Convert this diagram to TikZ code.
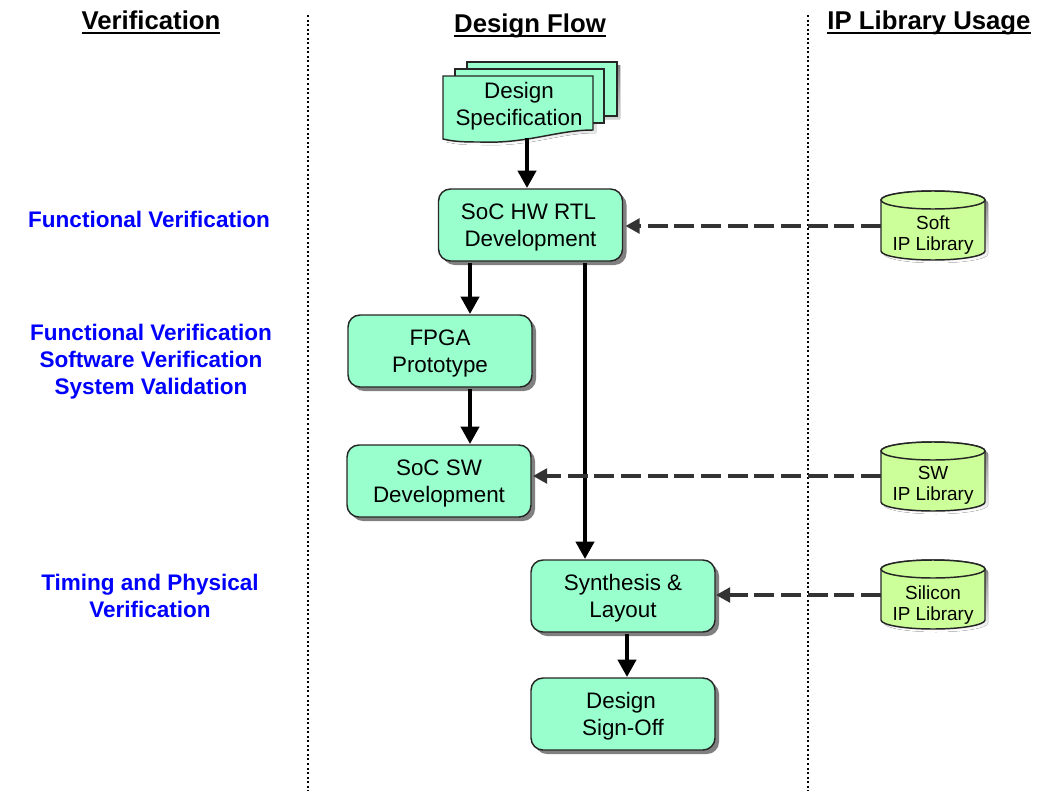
\documentclass[tikz,border=0pt]{standalone}
\usepackage{fontspec}
\setmainfont{Liberation Sans}
\usetikzlibrary{arrows.meta,calc,shadows}
\definecolor{boxfill}{HTML}{99FFCC}
\definecolor{cylfill}{HTML}{CCFF99}
\definecolor{shade}{HTML}{808080}
\definecolor{dashline}{HTML}{333333}
\definecolor{veriblue}{HTML}{0000FF}
\newcommand{\hdrline}[1]{\setbox0\hbox{#1}\rlap{\rule[-3.4pt]{\wd0}{1.5pt}}\box0}
\tikzset{
  pxshadow/.style={drop shadow={shadow xshift=3pt,shadow yshift=-3pt,fill=shade,opacity=1}},
  flowbox/.style={draw=black!85,line width=1.1pt,fill=boxfill,rounded corners=9pt,minimum width=138pt,minimum height=54pt,
    align=center,font=\fontsize{16.8}{20.2}\selectfont,inner sep=0pt,outer sep=0pt,pxshadow,text depth=0pt},
  cyltext/.style={align=center,font=\fontsize{14.2}{15.8}\selectfont,inner sep=0pt},
  cylbody/.style={draw=black!85,line width=1.1pt,fill=cylfill},
  cylanchor/.style={inner sep=0pt,minimum width=78pt,minimum height=52pt,outer sep=0pt},
  header/.style={font=\fontsize{19.3}{23}\bfseries\selectfont,inner sep=0pt},
  verilabel/.style={text=veriblue,align=center,font=\fontsize{16.9}{20.2}\bfseries\selectfont,inner sep=0pt},
  flowarrow/.style={draw=black,line width=3pt,-{Triangle[width=13.5pt,length=13pt]}},
  iparrow/.style={draw=dashline,line width=2.3pt,dash pattern=on 15pt off 5pt,-{Triangle[width=11pt,length=10.5pt]}},
  divider/.style={draw=black,line width=0.8pt,dash pattern=on 1.5pt off 1.9pt},
  docsheet/.style={draw=black!85,line width=1.1pt,fill=boxfill},
}
% #1 centre x, #2 top y of the cylinder
\newcommand{\ipdrum}[2]{%
  \fill[shade] (#1-52+3,#2+9+3) arc[start angle=180,end angle=360,x radius=52,y radius=9] -- (#1+52+3,#2+60+3)
     arc[start angle=0,end angle=180,x radius=52,y radius=9] -- cycle;
  \draw[cylbody] (#1-52,#2+9) arc[start angle=180,end angle=360,x radius=52,y radius=9] -- (#1+52,#2+60)
     arc[start angle=0,end angle=180,x radius=52,y radius=9] -- cycle;
  \draw[cylbody] (#1,#2+9) ellipse[x radius=52,y radius=9];
}
\begin{document}
\begin{tikzpicture}[x=0.75pt,y=-0.75pt]
\useasboundingbox (0,0) rectangle (1060,810);
% dividers
\coordinate (d1t) at (308,15); \coordinate (d1b) at (308,791);
\coordinate (d2t) at (808,15); \coordinate (d2b) at (808,791);
\draw[divider] (d1t) -- (d1b);
\draw[divider] (d2t) -- (d2b);
% headers
\node[header] (hv) at (151,22) {\hdrline{Verification}};
\node[header] (hd) at (530,26) {\hdrline{Design Flow}};
\node[header] (hi) at (929,23) {\hdrline{IP Library Usage}};
% verification labels
\node[verilabel] (v1) at (149,219) {Functional Verification};
\node[verilabel] (v2) at (151,362) {Functional Verification\\Software Verification\\System Validation};
\node[verilabel] (v3) at (150,596) {Timing and Physical\\Verification};
% document stack
\fill[shade] (470,65) -- (620,65) -- (620,119) -- (596,119) -- (596,133)
  .. controls (560,133) and (530,147) .. (483,145)
  .. controls (470,145) and (458,145) .. (446,142) -- (446,90) -- (470,90) -- cycle;
\draw[docsheet] (467,62) rectangle (617,116);
\draw[docsheet] (455,69) rectangle (604,123);
\draw[docsheet] (443,76) -- (593,76) -- (593,130)
  .. controls (557,130) and (527,144) .. (480,142)
  .. controls (467,142) and (455,142) .. (443,139) -- cycle;
\node[align=center,font=\fontsize{16.8}{20.2}\selectfont,inner sep=0pt,minimum width=112.5pt,minimum height=49pt] (spec) at (519,106.5) {Design\\Specification};
% libraries
\ipdrum{933}{191}
\ipdrum{933}{442}
\ipdrum{933}{560}
\node[cylanchor] (soft) at (933,226) {};
\node[cylanchor] (swl) at (933,476) {};
\node[cylanchor] (sil) at (933,595) {};
\node[cyltext] (softt) at (933,235) {Soft\\IP Library};
\node[cyltext] (swlt) at (933,485) {SW\\IP Library};
\node[cyltext] (silt) at (933,605) {Silicon\\IP Library};
% flow
\node[flowbox] (rtl) at (530.5,225) {SoC HW RTL\kern3pt\\Development};
\node[flowbox] (fpga) at (440,351) {FPGA\\Prototype};
\node[flowbox] (sw) at (439,481) {SoC SW\\Development};
\node[flowbox] (syn) at (623,596) {Synthesis \&\\Layout};
\node[flowbox] (sign) at (623,714) {Design\kern3pt\\Sign-Off};
\draw[flowarrow] ($(spec.south)+(8,-1)$) -- ($(rtl.north)+(-3.5,-1)$);
\draw[flowarrow] ($(rtl.south)+(-60.5,2)$) -- ($(fpga.north)+(30,-1)$);
\draw[flowarrow] ($(fpga.south)+(30,2)$) -- ($(sw.north)+(31,-1)$);
\draw[flowarrow] ($(rtl.south)+(54.5,2)$) -- ($(syn.north)+(-38,-1)$);
\draw[flowarrow] ($(syn.south)+(4,2)$) -- ($(sign.north)+(4,-1)$);
% library links
\draw[iparrow] (soft.west) -- ($(rtl.east)+(3,1)$);
\draw[iparrow] (swl.west) -- ($(sw.east)+(2,-5)$);
\draw[iparrow] (sil.west) -- ($(syn.east)+(1,-1)$);
\end{tikzpicture}
\end{document}
